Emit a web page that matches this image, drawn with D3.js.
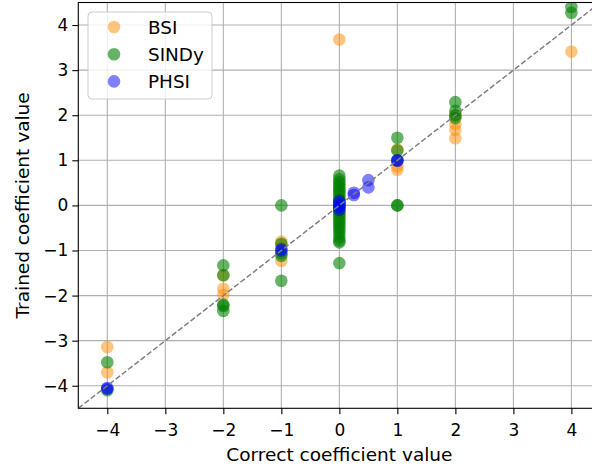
<!DOCTYPE html>
<html><head><meta charset="utf-8">
<script src="https://cdn.jsdelivr.net/npm/d3@7"></script>
<style>body{margin:0;background:#fff;overflow:hidden}svg{display:block}text{font-family:"DejaVu Sans",sans-serif}</style>
</head><body>
<svg id="c" width="592" height="470"></svg>
<script>
// Data: [correct, trained]
const bsiX = [0, 0, 0, 0, 0, 4, 2, 2, 2, 2, 1, 1, 1, -1, -1, -1, -2, -2, -2, -4, -4];
const bsiY = [3.68, 0.3, 0.1, 0, -0.2, 3.41, 2.0, 1.8, 1.67, 1.49, 1.24, 0.87, 0.79, -0.80, -0.88, -1.23, -1.55, -1.85, -1.98, -3.14, -3.70];
const sindyX = [4, 4, 2, 2, 2, 2, 1, 1, 1, 1, 1,
  0, 0, 0, 0, 0, 0, 0, 0, 0, 0, 0, 0, 0, 0, 0, 0, 0, 0, 0, 0, 0, 0, 0, 0, 0, 0, 0, 0, 0,
  -1, -1, -1, -1, -1, -2, -2, -2, -2, -2, -4, -4];
const sindyY = [4.40, 4.27, 2.29, 2.10, 2.0, 1.94, 1.50, 1.22, 1.0, 0.0, 0.0,
  0.66, 0.58, 0.52, 0.47, 0.41, 0.36, 0.30, 0.24, 0.19, 0.12, 0.08, 0.03, 0, 0, -0.04, -0.09, -0.15, -0.21, -0.27, -0.33, -0.38, -0.44, -0.50, -0.57, -0.63, -0.71, -0.78, -0.82, -1.28,
  0.0, -0.85, -1.06, -1.12, -1.67, -1.33, -1.55, -2.20, -2.23, -2.34, -3.48, -4.10];
const phsiX = [1, 1, 0.5, 0.5, 0.25, 0.25, 0, 0, 0, 0, 0, -1, -1, -4, -4];
const phsiY = [1.0, 0.99, 0.56, 0.40, 0.28, 0.23, 0.1, 0.05, 0, -0.05, -0.1, -0.97, -1.0, -4.05, -4.07];
const xTicks = [-4, -3, -2, -1, 0, 1, 2, 3, 4];
const yTicks = [-4, -3, -2, -1, 0, 1, 2, 3, 4];
const seriesNames = ["BSI", "SINDy", "PHSI"];

const svg = d3.select("#c");
const L = 78.3, R = 600.4, T = 2.5, B = 408.3;
const x = d3.scaleLinear().domain([-4.5, 4.5]).range([L, R]);
const y = d3.scaleLinear().domain([-4.5, 4.5]).range([B, T]);

// grid
const g = svg.append("g");
g.selectAll(".gx").data(xTicks).join("line")
  .attr("x1", d => x(d)).attr("x2", d => x(d)).attr("y1", T).attr("y2", B)
  .attr("stroke", "#b0b0b0").attr("stroke-width", 1.1);
g.selectAll(".gy").data(yTicks).join("line")
  .attr("y1", d => y(d)).attr("y2", d => y(d)).attr("x1", L).attr("x2", R)
  .attr("stroke", "#b0b0b0").attr("stroke-width", 1.1);

// clip
svg.append("clipPath").attr("id", "clip").append("rect")
  .attr("x", L).attr("y", T).attr("width", R - L).attr("height", B - T);
const plot = svg.append("g").attr("clip-path", "url(#clip)");

const series = [
  {xs: bsiX, ys: bsiY, color: "#ff8c00", op: 0.5},
  {xs: sindyX, ys: sindyY, color: "#008000", op: 0.6},
  {xs: phsiX, ys: phsiY, color: "#0000ff", op: 0.5}
];
series.forEach(s => {
  plot.append("g").selectAll("circle").data(s.xs.map((v, i) => [v, s.ys[i]])).join("circle")
    .attr("cx", d => x(d[0])).attr("cy", d => y(d[1])).attr("r", 6.3)
    .attr("fill", s.color).attr("fill-opacity", s.op);
});

// identity line
plot.append("line")
  .attr("x1", x(-4.5)).attr("y1", y(-4.5)).attr("x2", x(4.5)).attr("y2", y(4.5))
  .attr("stroke", "#808080").attr("stroke-width", 1.5).attr("stroke-dasharray", "5.5,2.4");

// axes
const fmt = d => (d < 0 ? "\u2212" + Math.abs(d) : "" + d);
const xa = svg.append("g").attr("transform", `translate(0,${B})`)
  .call(d3.axisBottom(x).tickValues(xTicks).tickFormat(fmt).tickSize(6).tickPadding(10));
const ya = svg.append("g").attr("transform", `translate(${L},0)`)
  .call(d3.axisLeft(y).tickValues(yTicks).tickFormat(fmt).tickSize(6).tickPadding(4));
[xa, ya].forEach(a => {
  a.select(".domain").remove();
  a.selectAll("line").attr("stroke", "#000").attr("stroke-width", 1.1);
  a.selectAll("text").attr("font-size", 17).attr("fill", "#000")
   .style("font-family", '"DejaVu Sans",sans-serif');
});
svg.append("rect").attr("x", L).attr("y", T).attr("width", R - L).attr("height", B - T)
  .attr("fill", "none").attr("stroke", "#000").attr("stroke-width", 1.1);

// labels
svg.append("text").attr("x", (L + R) / 2).attr("y", 461).attr("text-anchor", "middle")
  .attr("font-size", 18.5).text("Correct coefficient value");
svg.append("text").attr("transform", `translate(28.5,${(T + B) / 2}) rotate(-90)`)
  .attr("text-anchor", "middle").attr("font-size", 18.5).text("Trained coefficient value");

// legend
const lg = svg.append("g");
lg.append("rect").attr("x", 88).attr("y", 12).attr("width", 124).attr("height", 87).attr("rx", 4)
  .attr("fill", "#fff").attr("fill-opacity", 0.8).attr("stroke", "#cccccc").attr("stroke-width", 1);
seriesNames.forEach((n, i) => {
  const cy = 27 + i * 27.2;
  lg.append("circle").attr("cx", 114).attr("cy", cy).attr("r", 6.3)
    .attr("fill", series[i].color).attr("fill-opacity", series[i].op);
  lg.append("text").attr("x", 148).attr("y", cy).attr("dy", "0.36em").attr("font-size", 18.4).text(n);
});
</script>
</body></html>
